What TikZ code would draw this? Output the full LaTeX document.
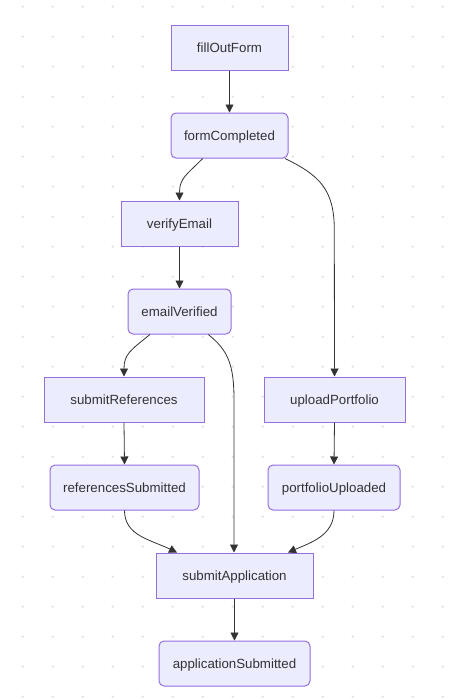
\documentclass[tikz,border=0pt]{standalone}
\usepackage{fontspec}
\setmainfont{Liberation Sans}
\usetikzlibrary{arrows.meta}
\definecolor{nodefill}{HTML}{ECECFF}
\definecolor{nodeline}{HTML}{9370DB}
\definecolor{edgecol}{HTML}{333333}
\definecolor{dotcol}{HTML}{E3E3E3}
\tikzset{
  base/.style={draw=nodeline, fill=nodefill, line width=1pt, text=edgecol,
    font=\fontsize{13.3pt}{16pt}\selectfont, minimum height=45pt, inner sep=0pt,
    text depth=0pt},
  action/.style={base},
  statebox/.style={base, rounded corners=5pt},
  edge/.style={draw=edgecol, line width=0.8pt, -{Triangle[length=8pt,width=8pt]}},
}
\begin{document}
\begin{tikzpicture}[x=1pt,y=-1pt]
\useasboundingbox (0,0) rectangle (450,699);
\fill[white] (0,0) rectangle (450,699);
\foreach \i in {0,...,14} {
  \foreach \j in {0,...,23} {
    \fill[dotcol] (22.7+30*\i, 6.7+30*\j) circle (1.3pt);
  }
}
\node[action, minimum width=117pt] (fof) at (229.5,47.5) {fillOutForm};
\node[statebox, minimum width=117pt] (fc) at (229.5,135.5) {formCompleted};
\node[action, minimum width=117pt] (ve) at (179.5,223.5) {verifyEmail};
\node[statebox, minimum width=103pt] (ev) at (179.5,311.5) {emailVerified};
\node[action, minimum width=160pt] (sr) at (124,399.5) {submitReferences};
\node[action, minimum width=141pt] (up) at (334.5,399.5) {uploadPortfolio};
\node[statebox, minimum width=149pt] (rs) at (124.5,487.5) {referencesSubmitted};
\node[statebox, minimum width=132pt] (pu) at (334,487.5) {portfolioUploaded};
\node[action, minimum width=157pt] (sa) at (234.5,575.5) {submitApplication};
\node[statebox, minimum width=151pt] (as) at (234.5,663.5) {applicationSubmitted};

\draw[edge] (fof.south) -- (fc.north);
\draw[edge] ([xshift=-26.8pt]fc.south) .. controls +(-17,17) and +(0,-22) .. (ve.north);
\draw[edge] ([xshift=55.5pt]fc.south) .. controls +(35,17) and +(0,-40) .. ([xshift=-0.2pt]up.north|-0,230) -- ([xshift=0pt]up.north);
\draw[edge] (ve.south) -- (ev.north);
\draw[edge] ([xshift=-29.5pt]ev.south) .. controls +(-20,16) and +(0,-22) .. (sr.north);
\draw[edge] ([xshift=28.8pt]ev.south) .. controls +(20,16) and +(0,-35) .. ([xshift=-0.5pt]sa.north|-0,400) -- ([xshift=-0.5pt]sa.north);
\draw[edge] (sr.south) -- (rs.north);
\draw[edge] (up.south) -- (pu.north);
\draw[edge] (rs.south) .. controls +(0,25) and +(-27,-13) .. ([xshift=-57.5pt]sa.north);
\draw[edge] (pu.south) .. controls +(0,25) and +(23,-10) .. ([xshift=53.5pt]sa.north);
\draw[edge] (sa.south) -- (as.north);
\end{tikzpicture}
\end{document}
